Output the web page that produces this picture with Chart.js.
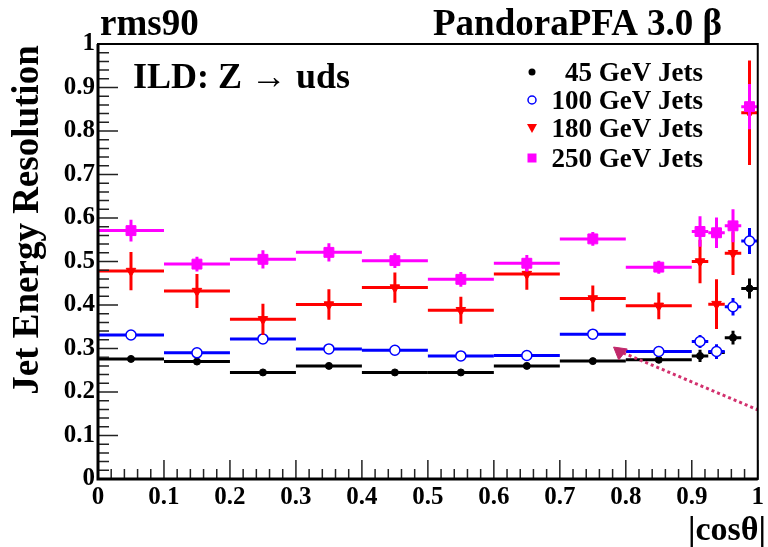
<!DOCTYPE html>
<html>
<head>
<meta charset="utf-8">
<title>Jet Energy Resolution vs |cosθ|</title>
<script src="https://cdn.jsdelivr.net/npm/chart.js@4.4.1/dist/chart.umd.min.js"></script>
<style>
    html, body { margin: 0; padding: 0; background: #fff; }
    #wrap { width: 768px; height: 547px; }
</style>
</head>
<body>
<div id="wrap"><canvas id="jerChart" width="768" height="547"></canvas></div>
<script>
// Bin edges in |cos theta| (last bins are narrower)
const binEdges = [0, 0.1, 0.2, 0.3, 0.4, 0.5, 0.6, 0.7, 0.8, 0.9, 0.925, 0.95, 0.975, 1.0];

// rms90 resolution per bin
const res45  = [0.276, 0.270, 0.245, 0.260, 0.245, 0.245, 0.260, 0.271, 0.274, 0.283, 0.291, 0.325, 0.438];
const err45  = [0.004, 0.004, 0.004, 0.004, 0.004, 0.004, 0.004, 0.004, 0.004, 0.014, 0.014, 0.016, 0.023];
const res100 = [0.331, 0.290, 0.322, 0.299, 0.296, 0.283, 0.284, 0.333, 0.293, 0.316, 0.293, 0.396, 0.547];
const err100 = [0.005, 0.005, 0.005, 0.005, 0.005, 0.005, 0.005, 0.005, 0.005, 0.015, 0.017, 0.020, 0.030];
const res180 = [0.478, 0.432, 0.367, 0.401, 0.440, 0.388, 0.471, 0.415, 0.398, 0.500, 0.402, 0.519, 0.842];
const err180 = [0.044, 0.039, 0.036, 0.035, 0.035, 0.031, 0.036, 0.030, 0.031, 0.050, 0.057, 0.050, 0.120];
const res250 = [0.571, 0.494, 0.505, 0.521, 0.502, 0.459, 0.496, 0.552, 0.487, 0.569, 0.566, 0.582, 0.856];
const err250 = [0.025, 0.017, 0.021, 0.021, 0.017, 0.017, 0.019, 0.016, 0.015, 0.035, 0.035, 0.038, 0.052];

const legendLabels = ['45 GeV Jets', '100 GeV Jets', '180 GeV Jets', '250 GeV Jets'];

// axis ticks
const tickValues = [0, 0.1, 0.2, 0.3, 0.4, 0.5, 0.6, 0.7, 0.8, 0.9, 1];
const tickLabels = ['0', '0.1', '0.2', '0.3', '0.4', '0.5', '0.6', '0.7', '0.8', '0.9', '1'];

// dotted arrow annotation (data units)
const arrowX = [0.796, 1.0];
const arrowY = [0.290, 0.159];
const arrowHeadX = [0.791];
const arrowHeadY = [0.292];

const FONT = '"Liberation Serif", "Times New Roman", serif';

function toPoints(values) {
    return values.map((v, i) => ({ x: (binEdges[i] + binEdges[i + 1]) / 2, y: v }));
}

// draws ROOT-style error bars right before each series' markers
const errorBars = {
    id: 'errorBars',
    beforeDatasetDraw(chart, args) {
        const ds = chart.data.datasets[args.index];
        if (!ds.errY) return;
        const ctx = chart.ctx;
        const x = chart.scales.x, y = chart.scales.y;
        const area = chart.chartArea;
        ctx.save();
        ctx.beginPath();
        ctx.rect(area.left, area.top, area.right - area.left, area.bottom - area.top);
        ctx.clip();
        ctx.strokeStyle = ds.barColor;
        ctx.lineWidth = 3;
        ds.data.forEach((p, i) => {
            const px = x.getPixelForValue(p.x);
            const py = y.getPixelForValue(p.y);
            ctx.beginPath();
            ctx.moveTo(x.getPixelForValue(binEdges[i]), py);
            ctx.lineTo(x.getPixelForValue(binEdges[i + 1]), py);
            ctx.moveTo(px, y.getPixelForValue(p.y - ds.errY[i]));
            ctx.lineTo(px, y.getPixelForValue(p.y + ds.errY[i]));
            ctx.stroke();
        });
        ctx.restore();
    }
};

function drawMarker(ctx, style, cx, cy) {
    ctx.beginPath();
    if (style.kind === 'dot') {
        ctx.arc(cx, cy, 3.5, 0, Math.PI * 2);
        ctx.fillStyle = style.color;
        ctx.fill();
    } else if (style.kind === 'open') {
        ctx.arc(cx, cy, 4, 0, Math.PI * 2);
        ctx.fillStyle = '#fff';
        ctx.fill();
        ctx.lineWidth = 1.5;
        ctx.strokeStyle = style.color;
        ctx.stroke();
    } else if (style.kind === 'tri') {
        ctx.moveTo(cx - 5, cy - 4);
        ctx.lineTo(cx + 5, cy - 4);
        ctx.lineTo(cx, cy + 5);
        ctx.closePath();
        ctx.fillStyle = style.color;
        ctx.fill();
    } else {
        ctx.fillStyle = style.color;
        ctx.fillRect(cx - 4.5, cy - 4.5, 9, 9);
    }
}

// frame, inward ticks, titles and legend
const decorations = {
    id: 'decorations',
    afterDraw(chart) {
        const ctx = chart.ctx;
        const a = chart.chartArea;
        const x = chart.scales.x, y = chart.scales.y;
        ctx.save();

        // inward tick marks every 0.02
        ctx.strokeStyle = '#222';
        ctx.lineWidth = 1.5;
        for (let i = 0; i <= 50; i++) {
            const major = i % 5 === 0;
            const px = x.getPixelForValue(i / 50);
            const py = y.getPixelForValue(i / 50);
            ctx.beginPath();
            ctx.moveTo(px, a.bottom);
            ctx.lineTo(px, a.bottom - (major ? 19 : 10));
            ctx.moveTo(a.left, py);
            ctx.lineTo(a.left + (major ? 20 : 11), py);
            ctx.stroke();
        }

        // frame
        ctx.strokeStyle = '#000';
        ctx.lineWidth = 2;
        ctx.strokeRect(a.left, a.top, a.right - a.left, a.bottom - a.top);
        ctx.lineWidth = 3;
        ctx.beginPath();
        ctx.moveTo(a.left, a.top);
        ctx.lineTo(a.left, a.bottom);
        ctx.lineTo(a.right, a.bottom);
        ctx.stroke();

        // titles
        ctx.fillStyle = '#000';
        ctx.textBaseline = 'alphabetic';
        ctx.textAlign = 'left';
        ctx.font = 'bold 37px ' + FONT;
        ctx.fillText('rms90', 100, 35);
        ctx.fillText('PandoraPFA 3.0 β', 433, 35);
        ctx.font = 'bold 36px ' + FONT;
        ctx.fillText('ILD: Z → uds', 133, 88);
        ctx.textAlign = 'right';
        ctx.font = 'bold 34px ' + FONT;
        ctx.fillText('|cosθ|', 766, 540);

        ctx.save();
        ctx.translate(38, 220);
        ctx.rotate(-Math.PI / 2);
        ctx.textAlign = 'center';
        ctx.font = 'bold 37px ' + FONT;
        ctx.fillText('Jet Energy Resolution', 0, 0);
        ctx.restore();

        // legend
        const rowY = [72, 100, 128, 158];
        const styles = [
            { kind: 'dot', color: '#000' },
            { kind: 'open', color: '#0000ff' },
            { kind: 'tri', color: '#ff0000' },
            { kind: 'sq', color: '#ff00ff' }
        ];
        ctx.font = 'bold 27px ' + FONT;
        ctx.textAlign = 'right';
        legendLabels.forEach((label, i) => {
            drawMarker(ctx, styles[i], 532, rowY[i]);
            ctx.fillStyle = '#000';
            ctx.fillText(label, 703, rowY[i] + 9);
        });

        ctx.restore();
    }
};

const ctx = document.getElementById('jerChart').getContext('2d');
const chart = new Chart(ctx, {
    type: 'scatter',
    data: {
        datasets: [
            {
                label: legendLabels[0],
                data: toPoints(res45),
                errY: err45,
                barColor: '#000000',
                pointStyle: 'circle',
                pointRadius: 3.5,
                backgroundColor: '#000000',
                borderColor: '#000000',
                borderWidth: 1,
                order: 3
            },
            {
                label: legendLabels[1],
                data: toPoints(res100),
                errY: err100,
                barColor: '#0000ff',
                pointStyle: 'circle',
                pointRadius: 5,
                backgroundColor: '#ffffff',
                borderColor: '#0000ff',
                borderWidth: 1.5,
                order: 2
            },
            {
                label: legendLabels[2],
                data: toPoints(res180),
                errY: err180,
                barColor: '#ff0000',
                pointStyle: 'triangle',
                rotation: 180,
                pointRadius: 5.5,
                backgroundColor: '#ff0000',
                borderColor: '#ff0000',
                borderWidth: 1,
                order: 1
            },
            {
                label: legendLabels[3],
                data: toPoints(res250),
                errY: err250,
                barColor: '#ff00ff',
                pointStyle: 'rect',
                pointRadius: 7,
                backgroundColor: '#ff00ff',
                borderColor: '#ff00ff',
                borderWidth: 1,
                order: 0
            },
            {
                label: 'arrow',
                data: arrowX.map((v, i) => ({ x: v, y: arrowY[i] })),
                showLine: true,
                borderColor: '#d2306e',
                borderWidth: 3,
                borderDash: [3, 3],
                pointRadius: 0,
                order: -1
            },
            {
                label: 'arrow head',
                data: arrowHeadX.map((v, i) => ({ x: v, y: arrowHeadY[i] })),
                pointStyle: 'triangle',
                rotation: 188,
                pointRadius: 8,
                backgroundColor: '#c0286a',
                borderColor: '#c0286a',
                borderWidth: 1,
                order: -2
            }
        ]
    },
    options: {
        responsive: false,
        animation: false,
        devicePixelRatio: 1,
        events: [],
        layout: { padding: { top: 44, right: 4, left: 0, bottom: 0 } },
        plugins: {
            legend: { display: false },
            tooltip: { enabled: false }
        },
        scales: {
            x: {
                type: 'linear',
                min: 0,
                max: 1,
                afterBuildTicks: s => { s.ticks = tickValues.map(v => ({ value: v })); },
                afterFit: s => { s.height = 68; },
                grid: { display: false, drawTicks: false },
                border: { display: false },
                ticks: {
                    autoSkip: false,
                    maxRotation: 0,
                    padding: 4,
                    color: '#000',
                    font: { family: FONT, size: 25, weight: 'bold' },
                    callback: (v, i) => tickLabels[i]
                }
            },
            y: {
                type: 'linear',
                min: 0,
                max: 1,
                afterBuildTicks: s => { s.ticks = tickValues.map(v => ({ value: v })); },
                afterFit: s => { s.width = 98; },
                grid: { display: false, drawTicks: false },
                border: { display: false },
                ticks: {
                    autoSkip: false,
                    padding: 3,
                    color: '#000',
                    font: { family: FONT, size: 25, weight: 'bold' },
                    callback: (v, i) => tickLabels[i]
                }
            }
        }
    },
    plugins: [errorBars, decorations]
});
</script>
</body>
</html>
